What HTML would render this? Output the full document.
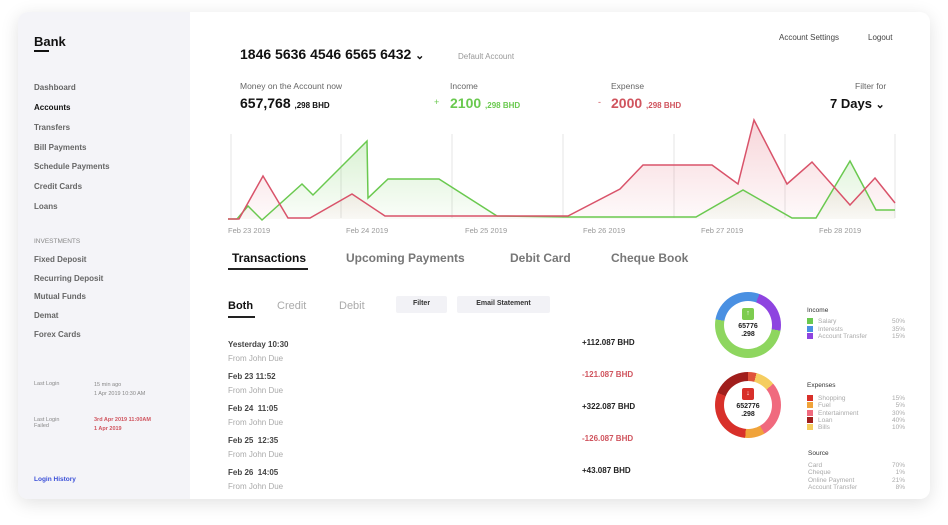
<!DOCTYPE html>
<html><head><meta charset="utf-8"><style>
*{margin:0;padding:0;box-sizing:border-box}
body{width:948px;height:525px;background:#fff;font-family:"Liberation Sans",sans-serif;position:relative;overflow:hidden}
.card{position:absolute;left:18px;top:12px;width:912px;height:487px;border-radius:10px;background:#fff;box-shadow:0 4px 18px rgba(0,0,0,.12);overflow:hidden}
.side{position:absolute;left:0;top:0;width:172px;height:487px;background:#f4f4f8}
.a{position:absolute;white-space:nowrap}
.nav{font-size:8px;font-weight:bold;color:#666}
.g{color:#999}
.leg{font-size:6.5px;color:#aaa}
.sq{display:inline-block;width:6px;height:6px;margin-right:5px;vertical-align:-1px}
</style></head><body>
<div class="card">
<div class="side">
<div class="a" style="left:16px;top:22px;font-size:13px;font-weight:bold;color:#111">Bank</div>
<div class="a" style="left:16px;top:38px;width:15px;height:2px;background:#111"></div>
<div class="a nav" style="left:16px;top:71px">Dashboard</div>
<div class="a nav" style="left:16px;top:91px;color:#111">Accounts</div>
<div class="a nav" style="left:16px;top:111px">Transfers</div>
<div class="a nav" style="left:16px;top:131px">Bill Payments</div>
<div class="a nav" style="left:16px;top:150px">Schedule Payments</div>
<div class="a nav" style="left:16px;top:170px">Credit Cards</div>
<div class="a nav" style="left:16px;top:190px">Loans</div>
<div class="a" style="left:16px;top:226px;font-size:6.5px;color:#888">INVESTMENTS</div>
<div class="a nav" style="left:16px;top:243px">Fixed Deposit</div>
<div class="a nav" style="left:16px;top:262px">Recurring Deposit</div>
<div class="a nav" style="left:16px;top:280px">Mutual Funds</div>
<div class="a nav" style="left:16px;top:299px">Demat</div>
<div class="a nav" style="left:16px;top:318px">Forex Cards</div>
<div class="a" style="left:16px;top:369px;font-size:5.5px;color:#888">Last Login</div>
<div class="a" style="left:76px;top:369px;font-size:5.5px;color:#888;line-height:9px">15 min ago<br>1 Apr 2019 10:30 AM</div>
<div class="a" style="left:16px;top:405px;font-size:5.5px;color:#888;line-height:6px">Last Login<br>Failed</div>
<div class="a" style="left:76px;top:404px;font-size:5.5px;color:#d0545e;font-weight:bold;line-height:9px">3rd Apr 2019 11:00AM<br>1 Apr 2019</div>
<div class="a" style="left:16px;top:464px;font-size:6.5px;color:#3a4fd8;font-weight:bold">Login History</div>
</div>
</div>
<!-- header -->
<div class="a" style="left:240px;top:46px;font-size:14px;font-weight:bold;color:#111">1846 5636 4546 6565 6432 <span style="font-size:11px">&#8964;</span></div>
<div class="a" style="left:458px;top:52px;font-size:8px;color:#999">Default Account</div>
<div class="a" style="left:779px;top:33px;font-size:8px;color:#444">Account Settings</div>
<div class="a" style="left:868px;top:33px;font-size:8px;color:#444">Logout</div>
<div class="a" style="left:240px;top:81px;font-size:8.5px;color:#666">Money on the Account now</div>
<div class="a" style="left:240px;top:95px;font-size:14px;font-weight:bold;color:#111">657,768 <span style="font-size:8px">,298 BHD</span></div>
<div class="a" style="left:450px;top:81px;font-size:8.5px;color:#666">Income</div>
<div class="a" style="left:434px;top:97px;font-size:9px;color:#6ac94f">+</div>
<div class="a" style="left:450px;top:95px;font-size:14px;font-weight:bold;color:#6ac94f">2100 <span style="font-size:8px">,298 BHD</span></div>
<div class="a" style="left:611px;top:81px;font-size:8.5px;color:#666">Expense</div>
<div class="a" style="left:598px;top:97px;font-size:9px;color:#d0545e">-</div>
<div class="a" style="left:611px;top:95px;font-size:14px;font-weight:bold;color:#d0545e">2000 <span style="font-size:8px">,298 BHD</span></div>
<div class="a" style="left:855px;top:81px;font-size:8.5px;color:#666">Filter for</div>
<div class="a" style="left:830px;top:96px;font-size:13px;font-weight:bold;color:#111">7 Days <span style="font-size:11px">&#8964;</span></div>
<!-- chart -->
<svg class="a" style="left:0;top:0" width="948" height="250">
<defs>
<linearGradient id="gg" x1="0" y1="0" x2="0" y2="1"><stop offset="0" stop-color="#6ac94f" stop-opacity=".25"/><stop offset="1" stop-color="#6ac94f" stop-opacity=".03"/></linearGradient>
<linearGradient id="rg" x1="0" y1="0" x2="0" y2="1"><stop offset="0" stop-color="#e05a6a" stop-opacity=".25"/><stop offset="1" stop-color="#e05a6a" stop-opacity=".03"/></linearGradient>
</defs>
<g stroke="#e4e4e4" stroke-width="1">
<line x1="231" y1="134" x2="231" y2="218"/><line x1="341" y1="134" x2="341" y2="218"/><line x1="452" y1="134" x2="452" y2="218"/><line x1="563" y1="134" x2="563" y2="218"/><line x1="674" y1="134" x2="674" y2="218"/><line x1="785" y1="134" x2="785" y2="218"/><line x1="895" y1="134" x2="895" y2="218"/>
</g>
<polygon fill="url(#gg)" points="228,219 237,219 248,206 262,220 302,184 313,195 367,141 368,198 388,179 439,179 497,216 568,217 696,217 743,190 792,218 816,218 850,161 876,210 895,210 895,219 228,219"/>
<polygon fill="url(#rg)" points="228,219 239,219 263,176 288,218 310,218 352,194 385,216 568,216 620,189 643,165 712,165 738,184 754,120 787,184 812,162 850,205 875,178 895,203 895,219"/>
<polyline fill="none" stroke="#6ac94f" stroke-width="1.5" points="228,219 237,219 248,206 262,220 302,184 313,195 367,141 368,198 388,179 439,179 497,216 568,217 696,217 743,190 792,218 816,218 850,161 876,210 895,210"/>
<polyline fill="none" stroke="#d9536a" stroke-width="1.5" points="228,219 239,219 263,176 288,218 310,218 352,194 385,216 568,216 620,189 643,165 712,165 738,184 754,120 787,184 812,162 850,205 875,178 895,203"/>
<g font-size="7.5" fill="#999" font-family="Liberation Sans">
<text x="228" y="233">Feb 23 2019</text><text x="346" y="233">Feb 24 2019</text><text x="465" y="233">Feb 25 2019</text><text x="583" y="233">Feb 26 2019</text><text x="701" y="233">Feb 27 2019</text><text x="819" y="233">Feb 28 2019</text>
</g>
</svg>
<!-- tabs -->
<div class="a" style="left:232px;top:251px;font-size:12px;font-weight:bold;color:#111">Transactions</div>
<div class="a" style="left:228px;top:268px;width:80px;height:2px;background:#222"></div>
<div class="a" style="left:346px;top:251px;font-size:12px;font-weight:bold;color:#777">Upcoming Payments</div>
<div class="a" style="left:510px;top:251px;font-size:12px;font-weight:bold;color:#777">Debit Card</div>
<div class="a" style="left:611px;top:251px;font-size:12px;font-weight:bold;color:#777">Cheque Book</div>
<div class="a" style="left:228px;top:300px;font-size:11px;font-weight:bold;color:#111">Both</div>
<div class="a" style="left:228px;top:316px;width:27px;height:1.5px;background:#222"></div>
<div class="a" style="left:277px;top:300px;font-size:11px;color:#aaa">Credit</div>
<div class="a" style="left:339px;top:300px;font-size:11px;color:#aaa">Debit</div>
<div class="a" style="left:396px;top:296px;width:51px;height:17px;background:#f2f2f6;border-radius:2px;font-size:7px;font-weight:bold;color:#333;text-align:center;line-height:16px">Filter</div>
<div class="a" style="left:457px;top:296px;width:93px;height:17px;background:#f2f2f6;border-radius:2px;font-size:7px;font-weight:bold;color:#333;text-align:center;line-height:16px">Email Statement</div>
<div class="a" style="left:228px;top:338px;font-size:8px;font-weight:bold;color:#444;line-height:14px">Yesterday 10:30<br><span style="font-weight:normal;color:#aaa">From John Due</span></div>
<div class="a" style="left:228px;top:370px;font-size:8px;font-weight:bold;color:#444;line-height:14px">Feb 23 11:52<br><span style="font-weight:normal;color:#aaa">From John Due</span></div>
<div class="a" style="left:228px;top:402px;font-size:8px;font-weight:bold;color:#444;line-height:14px">Feb 24&nbsp; 11:05<br><span style="font-weight:normal;color:#aaa">From John Due</span></div>
<div class="a" style="left:228px;top:434px;font-size:8px;font-weight:bold;color:#444;line-height:14px">Feb 25&nbsp; 12:35<br><span style="font-weight:normal;color:#aaa">From John Due</span></div>
<div class="a" style="left:228px;top:466px;font-size:8px;font-weight:bold;color:#444;line-height:14px">Feb 26&nbsp; 14:05<br><span style="font-weight:normal;color:#aaa">From John Due</span></div>
<div class="a" style="left:582px;top:338px;font-size:8px;font-weight:bold;color:#222">+112.087 BHD</div>
<div class="a" style="left:582px;top:370px;font-size:8px;font-weight:bold;color:#d0545e">-121.087 BHD</div>
<div class="a" style="left:582px;top:402px;font-size:8px;font-weight:bold;color:#222">+322.087 BHD</div>
<div class="a" style="left:582px;top:434px;font-size:8px;font-weight:bold;color:#d0545e">-126.087 BHD</div>
<div class="a" style="left:582px;top:466px;font-size:8px;font-weight:bold;color:#222">+43.087 BHD</div>
<!-- donuts -->
<div class="a" style="left:715px;top:292px;width:66px;height:66px;border-radius:50%;background:conic-gradient(#4a90e2 0 20deg,#8e44e0 20deg 100deg,#8ed65f 100deg 280deg,#4a90e2 280deg 360deg)"></div>
<div class="a" style="left:724px;top:301px;width:48px;height:48px;border-radius:50%;background:#fff"></div>
<div class="a" style="left:742px;top:308px;width:12px;height:12px;border-radius:2px;background:#7dcc4f;color:#fff;font-size:7px;text-align:center;line-height:12px">&#8593;</div>
<div class="a" style="left:724px;top:323px;width:48px;text-align:center;font-size:7px;font-weight:bold;color:#222;line-height:8px">65776<br>.298</div>
<div class="a" style="left:715px;top:372px;width:66px;height:66px;border-radius:50%;background:conic-gradient(#e0523a 0 15deg,#f5cd60 15deg 50deg,#f06a7e 50deg 150deg,#f0a33a 150deg 185deg,#d8302a 185deg 292deg,#a01e1c 292deg 360deg)"></div>
<div class="a" style="left:724px;top:381px;width:48px;height:48px;border-radius:50%;background:#fff"></div>
<div class="a" style="left:742px;top:388px;width:12px;height:12px;border-radius:2px;background:#d8302a;color:#fff;font-size:7px;text-align:center;line-height:12px">&#8595;</div>
<div class="a" style="left:724px;top:403px;width:48px;text-align:center;font-size:7px;font-weight:bold;color:#222;line-height:8px">652776<br>.298</div>
<!-- legends -->
<div class="a" style="left:807px;top:307px;font-size:6.5px;color:#333">Income</div>
<div class="a leg" style="left:807px;top:318px;line-height:7.5px"><span class="sq" style="background:#6ac94f"></span>Salary<br><span class="sq" style="background:#4a90e2"></span>Interests<br><span class="sq" style="background:#8e44e0"></span>Account Transfer</div>
<div class="a leg" style="left:892px;top:318px;line-height:7.5px">50%<br>35%<br>15%</div>
<div class="a" style="left:807px;top:382px;font-size:6.5px;color:#333">Expenses</div>
<div class="a leg" style="left:807px;top:395px;line-height:7.3px"><span class="sq" style="background:#d8302a"></span>Shopping<br><span class="sq" style="background:#f0a33a"></span>Fuel<br><span class="sq" style="background:#f06a7e"></span>Entertainment<br><span class="sq" style="background:#a01e1c"></span>Loan<br><span class="sq" style="background:#f5cd60"></span>Bills</div>
<div class="a leg" style="left:892px;top:395px;line-height:7.3px;text-align:right">15%<br>5%<br>30%<br>40%<br>10%</div>
<div class="a" style="left:808px;top:450px;font-size:6.5px;color:#333">Source</div>
<div class="a leg" style="left:808px;top:462px;line-height:7.3px">Card<br>Cheque<br>Online Payment<br>Account Transfer</div>
<div class="a leg" style="left:892px;top:462px;line-height:7.3px;text-align:right">70%<br>1%<br>21%<br>8%</div>
</body></html>
